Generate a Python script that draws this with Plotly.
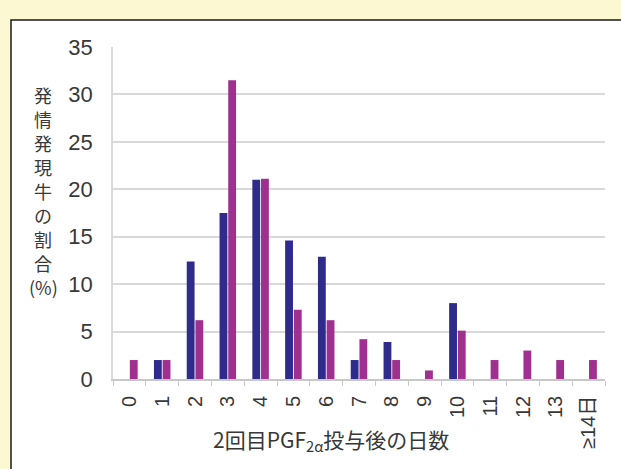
import plotly.graph_objects as go

# Days after the second PGF2α injection (category axis)
days = ["0", "1", "2", "3", "4", "5", "6", "7", "8", "9", "10", "11", "12", "13", "≥14日"]

# Share of cows showing estrus on each day (%)
series_a = [0, 2.0, 12.4, 17.5, 21.0, 14.6, 12.9, 2.0, 3.9, 0, 8.0, 0, 0, 0, 0]
series_b = [2.0, 2.0, 6.2, 31.5, 21.1, 7.3, 6.2, 4.2, 2.0, 0.9, 5.1, 2.0, 3.0, 2.0, 2.0]

y_ticks = [0, 5, 10, 15, 20, 25, 30, 35]

# y-axis title, stacked one character per line
y_title_chars = ["発", "情", "発", "現", "牛", "の", "割", "合", "(%)"]

BLUE = "#2f2b8b"
PURPLE = "#a0308f"
TEXT = "#383838"
GRID = "#d9d9d9"
JP_FONT = "Noto Sans CJK JP, Noto Sans, sans-serif"
NUM_FONT = "Liberation Sans, Noto Sans CJK JP, sans-serif"

fig = go.Figure()
fig.add_trace(go.Bar(x=days, y=series_a, marker=dict(color=BLUE, line=dict(width=0))))
fig.add_trace(go.Bar(x=days, y=series_b, marker=dict(color=PURPLE, line=dict(width=0))))

W, H = 621, 469
L, R, T, B = 113, 16, 47, 90
pw, ph = W - L - R, H - T - B


def px_x(px):
    return (px - L) / pw


def px_y(py):
    return (H - B - py) / ph


annotations = []
for i, ch in enumerate(y_title_chars):
    annotations.append(
        dict(
            text=ch,
            xref="paper",
            yref="paper",
            x=px_x(43),
            y=px_y(95 + 24 * i),
            xanchor="center",
            yanchor="middle",
            showarrow=False,
            font=dict(size=18, color=TEXT, family=JP_FONT),
        )
    )

annotations.append(
    dict(
        text="2回目PGF<sub>2α</sub>投与後の日数",
        xref="paper",
        yref="paper",
        x=px_x(331),
        y=px_y(440),
        xanchor="center",
        yanchor="middle",
        showarrow=False,
        font=dict(size=21, color=TEXT, family=JP_FONT),
    )
)

fig.update_layout(
    width=W,
    height=H,
    margin=dict(l=L, r=R, t=T, b=B),
    paper_bgcolor="#fcf8d2",
    plot_bgcolor="white",
    showlegend=False,
    barmode="group",
    bargap=0.47,
    bargroupgap=0.1,
    font=dict(family=JP_FONT, color=TEXT),
    xaxis=dict(
        type="category",
        tickangle=-90,
        tickfont=dict(size=20, color=TEXT, family=NUM_FONT),
        showline=True,
        linecolor="#c8c8c8",
        linewidth=1.5,
        ticks="outside",
        tickson="boundaries",
        ticklen=5,
        tickcolor="#c8c8c8",
        showgrid=False,
        ticklabelstandoff=7,
    ),
    yaxis=dict(
        range=[0, 35],
        tickvals=y_ticks,
        tickfont=dict(size=22, color=TEXT, family=NUM_FONT),
        showgrid=True,
        gridcolor=GRID,
        gridwidth=1.5,
        showline=True,
        linecolor=GRID,
        linewidth=1.5,
        zeroline=False,
        ticks="",
        ticklabelstandoff=14,
    ),
    shapes=[
        # white panel with a dark frame behind the chart
        dict(
            type="rect",
            xref="paper",
            yref="paper",
            x0=px_x(11),
            x1=px_x(640),
            y0=px_y(490),
            y1=px_y(20),
            fillcolor="white",
            line=dict(color="#1a1a1a", width=1.5),
            layer="below",
        )
    ],
    annotations=annotations,
)

fig.write_html("out.html")
